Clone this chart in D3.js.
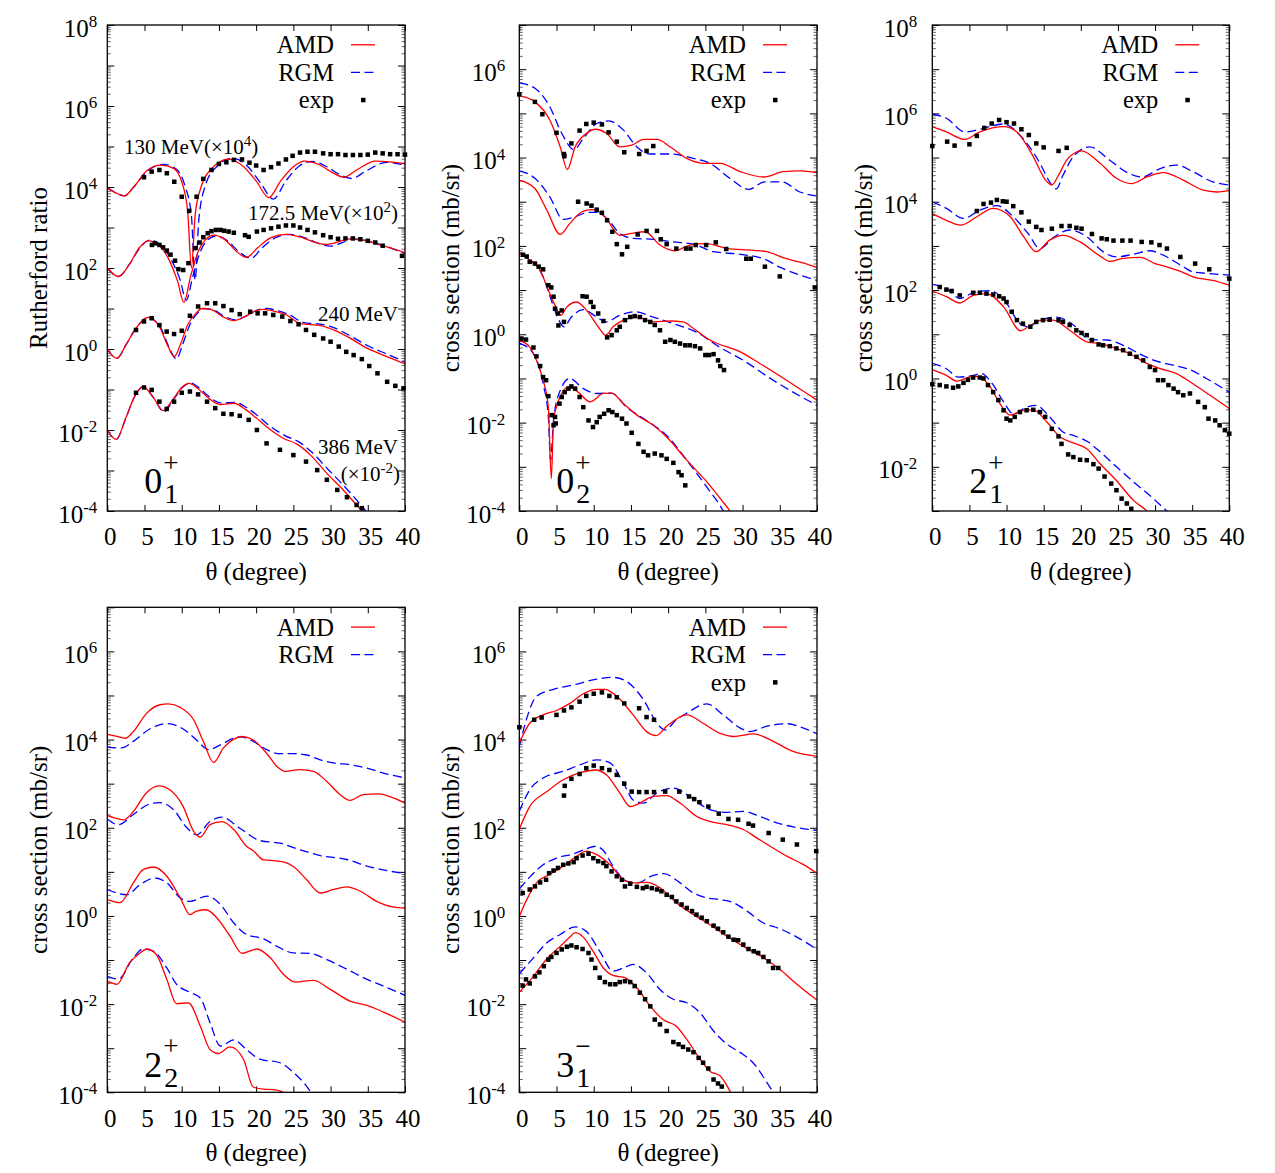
<!DOCTYPE html>
<html><head><meta charset="utf-8">
<script src="https://cdn.jsdelivr.net/npm/d3@7/dist/d3.min.js"></script>
<style>
body{margin:0;background:#fff}
text{font-family:"Liberation Serif","Times New Roman",serif;fill:#000}
</style>
</head><body>
<svg id="chart" width="1275" height="1173" xmlns="http://www.w3.org/2000/svg"></svg>
<script>
// ===== DATA: [theta (deg), log10(value)] =====
const xTicks = [0,5,10,15,20,25,30,35,40];
const legendNames = ["AMD","RGM","exp"];
const energyLabels = ["130 MeV(×10", "172.5 MeV(×10", "240 MeV", "386 MeV", "(×10"];

// ---- panel 1 : 0_1^+ (Rutherford ratio) ----
const p1_130_amd = [[0,3.98],[1.2,3.85],[2.3,3.78],[3.5,3.99],[5.3,4.40],[7.2,4.54],[8.9,4.46],[10,4.13],[10.8,3.4],[11.3,2.0],[11.8,3.3],[12.6,4.0],[14,4.45],[16.3,4.69],[18.2,4.52],[20,4.15],[21.7,3.74],[23.3,4.15],[25,4.5],[26.5,4.64],[28.5,4.55],[30.3,4.35],[31.8,4.24],[33.5,4.42],[36,4.64],[38,4.62],[40,4.57]];
const p1_130_rgm = [[0,3.98],[1.2,3.85],[2.3,3.78],[3.5,3.99],[5.4,4.40],[7.5,4.56],[9.2,4.45],[10.4,4.05],[11.3,3.3],[11.8,1.7],[12.3,3.2],[13.2,4.05],[14.7,4.5],[16.8,4.71],[18.8,4.52],[20.6,4.1],[22.3,3.70],[24,4.15],[25.8,4.52],[27.5,4.63],[29.5,4.5],[31.3,4.3],[32.8,4.21],[34.8,4.4],[37.5,4.61],[40,4.54]];
const p1_130_exp = [[4.93,4.24],[5.96,4.38],[7.0,4.42],[8.0,4.34],[9.0,4.13],[10.0,3.76],[11.0,3.41],[12.0,3.76],[12.9,4.2],[14.0,4.42],[15.0,4.57],[16.0,4.61],[17.0,4.67],[18.1,4.68],[19.1,4.6],[20,4.53],[21,4.42],[22,4.49],[23,4.58],[24,4.68],[24.9,4.77],[25.9,4.85],[26.9,4.87],[27.9,4.87],[29,4.83],[30,4.81],[31,4.81],[32,4.79],[33,4.79],[34,4.79],[35,4.8],[36,4.85],[37,4.83],[38,4.81],[39,4.81],[40,4.8]];
const p1_172_amd = [[0,2.0],[1.5,1.79],[3,2.1],[4.3,2.5],[5.5,2.67],[7,2.55],[8.3,2.2],[9.4,1.7],[10.3,1.15],[11.2,1.8],[12.2,2.4],[13.2,2.7],[14.3,2.81],[15.8,2.7],[17.3,2.42],[18.7,2.26],[20.2,2.5],[22,2.75],[24,2.83],[26,2.76],[28,2.63],[29.3,2.58],[30.8,2.63],[32.5,2.72],[34.5,2.68],[37,2.55],[40,2.38]];
const p1_172_rgm = [[0,2.0],[1.5,1.79],[3,2.1],[4.4,2.5],[5.7,2.69],[7.2,2.57],[8.6,2.2],[9.8,1.7],[10.6,1.2],[11.5,1.8],[12.5,2.4],[13.5,2.7],[14.6,2.79],[16.1,2.68],[17.7,2.4],[19.3,2.24],[20.8,2.5],[22.6,2.75],[24.5,2.83],[26.5,2.75],[28.5,2.6],[30,2.54],[31.5,2.62],[33,2.72],[35,2.67],[37.5,2.53],[40,2.36]];
const p1_172_exp = [[6.0,2.57],[6.4,2.61],[7.0,2.57],[7.5,2.51],[8.0,2.43],[8.5,2.33],[9.1,2.18],[9.55,1.97],[10.2,1.95],[10.9,2.12],[11.8,2.49],[12.4,2.63],[12.9,2.76],[13.5,2.86],[14,2.91],[14.6,2.94],[15.2,2.94],[15.7,2.92],[16.3,2.9],[17,2.87],[18.5,2.81],[19,2.77],[20.1,2.9],[21,2.94],[22,2.98],[23,3.02],[24,3.05],[25,3.05],[25.9,3.0],[26.9,2.94],[27.9,2.88],[29,2.81],[30,2.76],[31,2.72],[32,2.73],[33,2.73],[34,2.71],[35,2.67],[36,2.63],[37,2.55],[39.6,2.3]];
const p1_240_amd = [[0,0.0],[1.3,-0.23],[2.5,0.1],[3.8,0.5],[5.5,0.78],[7,0.55],[8.2,0.05],[9.0,-0.19],[9.8,0.1],[10.8,0.6],[12,0.9],[12.7,1.0],[14,0.97],[15.5,0.8],[17,0.70],[18.5,0.8],[20,0.95],[21,0.98],[22.5,0.93],[24.1,0.84],[25.9,0.63],[28.8,0.57],[30.4,0.47],[32.5,0.28],[34.9,0.02],[37.5,-0.18],[40,-0.37]];
const p1_240_rgm = [[0,0.0],[1.3,-0.23],[2.5,0.1],[3.8,0.5],[5.5,0.77],[7.1,0.55],[8.4,0.0],[9.3,-0.25],[10.1,0.1],[11.1,0.6],[12.3,0.92],[13,1.0],[14.3,0.96],[15.8,0.8],[17.2,0.72],[18.7,0.82],[20.3,0.97],[21.5,1.0],[23,0.94],[24.5,0.84],[26.3,0.66],[29,0.6],[30.5,0.52],[32.5,0.34],[35,0.08],[37.5,-0.12],[40,-0.32]];
const p1_240_exp = [[3.86,0.47],[4.93,0.68],[5.96,0.76],[7.0,0.59],[7.98,0.43],[8.97,0.37],[10.0,0.45],[11.1,0.82],[12.2,1.05],[13.4,1.13],[14.5,1.13],[15.6,1.06],[16.7,0.96],[17.8,0.86],[19.2,0.92],[20.2,0.88],[21.2,0.88],[22.3,0.84],[23.5,0.80],[24.6,0.69],[25.7,0.61],[26.7,0.47],[27.8,0.35],[29.0,0.26],[30.0,0.18],[31.1,0.06],[32.1,-0.07],[33.1,-0.15],[34.2,-0.25],[35.2,-0.42],[36.3,-0.60],[37.6,-0.81],[38.7,-0.91],[39.8,-0.97]];
const p1_386_amd = [[0,-2.0],[1.2,-2.23],[2.5,-1.7],[3.6,-1.2],[4.8,-0.93],[6.2,-1.2],[7.5,-1.52],[8.8,-1.25],[10,-0.95],[11,-0.85],[12.2,-0.98],[13.4,-1.18],[15.2,-1.37],[17,-1.34],[18.7,-1.51],[20,-1.7],[21.4,-1.92],[23.7,-2.21],[25.5,-2.35],[27.3,-2.62],[29.5,-3.07],[31.7,-3.48],[34.2,-3.99],[36,-4.3]];
const p1_386_rgm = [[0,-2.0],[1.2,-2.23],[2.5,-1.7],[3.6,-1.2],[4.8,-0.93],[6.2,-1.2],[7.6,-1.55],[8.9,-1.25],[10.1,-0.95],[11.2,-0.84],[12.4,-0.97],[13.5,-1.15],[15.3,-1.33],[17.2,-1.32],[18.9,-1.47],[20.3,-1.66],[21.7,-1.88],[24,-2.15],[25.8,-2.3],[27.5,-2.55],[29.7,-2.98],[32,-3.42],[34.6,-3.97],[36,-4.3]];
const p1_386_exp = [[3.86,-1.08],[4.93,-0.95],[5.96,-1.01],[7.0,-1.30],[7.98,-1.48],[8.97,-1.30],[10.0,-1.08],[11.1,-1.05],[12.2,-1.12],[13.4,-1.30],[14.5,-1.46],[15.6,-1.60],[16.7,-1.61],[17.8,-1.65],[19.0,-1.75],[20.1,-2.0],[21.4,-2.33],[23.2,-2.49],[25.0,-2.62],[26.7,-2.78],[28.2,-2.99],[29.5,-3.23],[30.9,-3.48],[32.2,-3.66],[33.5,-3.85],[34.2,-3.93]];

// ---- panel 2 : 0_2^+ ----
const p2_130_amd = [[0,5.40],[2.1,5.26],[4.1,4.85],[5.5,4.24],[6.45,3.73],[7.5,4.24],[9.05,4.55],[10.2,4.64],[11.7,4.55],[13.5,4.24],[15.1,4.28],[16.7,4.41],[18.5,4.41],[20.3,4.24],[22.5,3.98],[24.7,3.87],[27,3.87],[29.7,3.68],[32.8,3.56],[35.5,3.68],[37.7,3.70],[40,3.66]];
const p2_130_rgm = [[0,5.69],[2.1,5.57],[4.1,5.15],[5.7,4.55],[7.35,4.18],[8.6,4.43],[10.4,4.77],[12,4.83],[14,4.62],[15.8,4.24],[17.6,4.08],[20.3,4.08],[23.4,3.98],[25.6,3.87],[28.3,3.53],[30.8,3.28],[33,3.45],[35.3,3.45],[37.7,3.22],[40,3.13]];
const p2_130_exp = [[0,5.43],[2.1,5.26],[3.1,4.98],[5.0,4.56],[6.0,4.08],[6.05,4.03],[7.0,4.32],[8.1,4.61],[9,4.76],[10,4.79],[11.1,4.75],[12,4.57],[13.1,4.36],[14.1,4.12],[16.1,4.08],[17.1,4.15],[18,4.26]];
const p2_172_amd = [[0,3.49],[2.1,3.30],[3.7,2.81],[5.5,2.26],[6.8,2.51],[8.6,2.79],[9.95,2.82],[11.5,2.66],[13.5,2.24],[14.9,2.28],[16.9,2.32],[18.9,2.02],[20.9,1.89],[22.9,2.02],[25.2,2.05],[27.9,1.94],[31.5,1.90],[33.2,1.87],[35.9,1.71],[38,1.62],[40,1.51]];
const p2_172_rgm = [[0,3.70],[2.1,3.53],[4.1,3.11],[5.9,2.60],[7.5,2.66],[9.3,2.76],[10.4,2.76],[12,2.58],[13.5,2.28],[15.3,2.17],[18,2.15],[20.7,2.09],[23.4,2.04],[26.1,1.87],[29.7,1.81],[32.8,1.71],[35,1.52],[37.5,1.35],[40,1.22]];
const p2_172_exp = [[7.9,3.0],[9.05,2.96],[9.7,2.91],[10.4,2.82],[11.1,2.75],[11.8,2.58],[12.5,2.32],[13.1,2.04],[13.8,1.81],[14.5,1.98],[15.9,2.26],[17.1,2.34],[18.5,2.34],[19,2.15],[19.8,2.04],[21.1,1.94],[22.4,1.94],[23,1.94],[23.7,2.02],[25.1,2.02],[26.4,2.08],[27.8,1.93],[30.5,1.71],[31.1,1.71],[33,1.53],[35,1.31],[39.7,1.06]];
const p2_240_amd = [[0,1.83],[1.4,1.68],[2.8,1.45],[3.9,1.0],[4.8,0.66],[5.6,0.43],[6.4,0.62],[7.7,0.73],[9.05,0.54],[10.6,0.17],[11.6,-0.02],[12.6,0.17],[14,0.32],[15.8,0.39],[18,0.28],[20.3,0.30],[22,0.28],[23.4,0.13],[25.6,-0.13],[29.7,-0.40],[32.3,-0.66],[35.9,-1.04],[40,-1.49]];
const p2_240_rgm = [[0,1.85],[1.4,1.7],[3.2,1.30],[4.3,0.77],[5.2,0.36],[6,0.17],[7,0.39],[8.6,0.56],[10.4,0.39],[11.7,0.28],[13.5,0.43],[15.5,0.51],[18,0.39],[20.7,0.24],[23.8,0.05],[26.9,-0.29],[30.1,-0.59],[34.1,-1.04],[40,-1.61]];
const p2_240_exp = [[0.5,1.8],[1.0,1.76],[1.4,1.64],[2.1,1.60],[2.6,1.53],[3.2,1.47],[3.9,1.11],[4.3,1.06],[4.6,0.85],[4.8,0.58],[5.2,0.47],[5.25,0.20],[5.7,0.54],[6,0.28],[8.5,0.86],[9.05,0.85],[9.6,0.73],[9.95,0.62],[10.6,0.47],[11.3,0.30],[11.8,-0.07],[12.4,-0.02],[13.1,0.09],[13.5,0.17],[14.2,0.32],[14.9,0.39],[15.5,0.41],[16.2,0.39],[16.9,0.32],[17.6,0.28],[18.2,0.21],[18.9,0.09],[19.6,-0.17],[20.3,-0.13],[20.9,-0.17],[21.6,-0.21],[22.3,-0.25],[22.9,-0.25],[23.6,-0.27],[24.3,-0.32],[25,-0.47],[25.5,-0.47],[26.1,-0.45],[26.7,-0.59],[27,-0.72],[27.5,-0.81]];
const p2_386_amd = [[0,-0.14],[1.4,-0.29],[2.3,-0.59],[3.2,-1.04],[3.9,-1.64],[4.3,-3.27],[4.6,-1.95],[5,-1.64],[5.7,-1.34],[6.6,-1.19],[7.9,-1.31],[9.5,-1.53],[11.3,-1.34],[12.4,-1.33],[14,-1.57],[15.8,-1.83],[18,-2.06],[20,-2.36],[22.5,-2.85],[25.2,-3.34],[27.2,-3.76],[28.3,-4.0],[29,-4.2]];
const p2_386_rgm = [[0,-0.20],[1.9,-0.44],[3.2,-1.12],[3.9,-1.87],[4.2,-2.85],[4.6,-1.95],[5.5,-1.27],[6.8,-1.0],[8.6,-1.23],[10.4,-1.34],[12.4,-1.33],[14.4,-1.65],[17.1,-1.95],[19.8,-2.29],[22.5,-2.85],[25.2,-3.46],[27.4,-4.0],[28,-4.2]];
const p2_386_exp = [[0.3,-0.10],[0.9,-0.12],[1.9,-0.30],[2.3,-0.50],[2.8,-0.72],[3.2,-0.97],[3.6,-1.04],[3.9,-1.40],[4.35,-1.83],[4.6,-2.06],[4.9,-2.02],[4.8,-1.87],[5.4,-1.57],[5.7,-1.42],[6.1,-1.31],[6.6,-1.23],[7.0,-1.18],[7.5,-1.23],[8.1,-1.42],[8.6,-1.65],[9.3,-1.95],[9.9,-2.10],[10.4,-1.99],[10.8,-1.87],[11.4,-1.80],[12,-1.72],[12.5,-1.76],[13.1,-1.83],[13.8,-1.91],[14.4,-2.02],[15.1,-2.23],[16,-2.48],[16.7,-2.66],[17.3,-2.74],[18.2,-2.70],[19.1,-2.74],[19.8,-2.82],[20.7,-2.91],[21.4,-3.12],[21.8,-3.19],[22.3,-3.42]];

// ---- panel 3 : 2_1^+ ----
const p3_130_amd = [[0,5.70],[1.9,5.58],[4.4,5.41],[6.4,5.58],[9.6,5.70],[11.4,5.58],[13.6,5.02],[15.2,4.5],[16.1,4.38],[17,4.6],[18.1,4.94],[20.1,5.15],[22.6,4.87],[24.8,4.53],[26.8,4.41],[28.9,4.56],[31.1,4.66],[33.8,4.49],[36.5,4.26],[38.3,4.22],[40,4.25]];
const p3_130_rgm = [[0,5.98],[1.9,5.89],[4.4,5.58],[6.4,5.64],[9.6,5.76],[12,5.47],[14.5,4.87],[16,4.4],[16.7,4.29],[17.6,4.6],[19,5.02],[21.2,5.24],[23.9,4.94],[26.6,4.63],[28.2,4.56],[30.7,4.75],[32.9,4.83],[35.1,4.68],[37.8,4.45],[40,4.38]];
const p3_130_exp = [[0,5.26],[2,5.36],[3,5.27],[5,5.30],[6,5.49],[7,5.67],[8,5.77],[9,5.85],[10,5.80],[11,5.77],[12,5.64],[13,5.51],[14,5.32],[15,5.23],[17,5.15],[18.1,5.22]];
const p3_172_amd = [[0,3.73],[1.9,3.58],[3.8,3.47],[6,3.66],[8.2,3.85],[10.5,3.66],[12.3,3.21],[14,2.87],[15.8,3.13],[17.6,3.24],[19.9,3.09],[22.6,2.77],[23.9,2.65],[25.7,2.72],[28,2.74],[30,2.60],[31.5,2.53],[33.5,2.42],[35.1,2.30],[37.8,2.22],[40,2.11]];
const p3_172_rgm = [[0,4.0],[1.9,3.85],[4.2,3.62],[6.4,3.81],[8.7,3.91],[10.9,3.66],[12.9,3.28],[14.5,2.94],[16.3,3.19],[18.5,3.36],[20.8,3.21],[23,2.87],[24.8,2.75],[27,2.81],[29.3,2.89],[31.1,2.79],[33.8,2.53],[35.1,2.41],[36.9,2.38],[40,2.34]];
const p3_172_exp = [[6,3.79],[6.9,3.95],[7.9,3.98],[8.7,4.04],[9.5,4.01],[10,4.0],[10.9,3.90],[12,3.76],[13,3.55],[14,3.43],[14.7,3.36],[16.1,3.39],[17.4,3.45],[18.5,3.45],[19.4,3.41],[20.1,3.39],[21.5,3.27],[22.8,3.17],[23.5,3.15],[24.4,3.12],[25.6,3.12],[26.7,3.12],[28.2,3.09],[29.5,3.08],[30.6,3.02],[31.6,2.94],[33.4,2.75],[35.4,2.60],[37.3,2.47],[40,2.26]];
const p3_240_amd = [[0,1.98],[1.9,1.85],[3.7,1.71],[5.5,1.88],[7.3,1.92],[9.6,1.62],[11.9,1.08],[12.9,1.17],[14.7,1.32],[16.3,1.32],[18.5,1.09],[20.8,0.83],[22.6,0.79],[24.4,0.70],[26.6,0.56],[28.9,0.34],[30.7,0.22],[32.9,0.11],[35.1,-0.12],[37.4,-0.38],[40,-0.68]];
const p3_240_rgm = [[0,2.13],[1.9,2.04],[3.7,1.81],[5.5,1.94],[7.8,1.99],[10,1.70],[11.8,1.24],[12.9,1.17],[14.5,1.32],[16.7,1.39],[19,1.21],[21.2,0.88],[23.5,0.87],[25.7,0.75],[28,0.55],[30.2,0.39],[32.5,0.30],[34.7,0.20],[36.9,0.0],[40,-0.31]];
const p3_240_exp = [[1,2.07],[1.9,2.01],[2.6,1.98],[3.7,1.88],[5.5,1.94],[6.4,1.94],[7.3,1.92],[8.2,1.90],[9,1.86],[9.6,1.81],[10,1.73],[10.7,1.51],[11.4,1.32],[12.2,1.24],[13.2,1.17],[14,1.28],[14.9,1.32],[15.8,1.33],[17,1.32],[17.6,1.28],[18.5,1.21],[19.4,1.09],[20.1,1.03],[20.8,0.98],[21.5,0.87],[22.4,0.77],[23,0.75],[23.9,0.73],[24.8,0.68],[25.7,0.64],[26.6,0.56],[27.5,0.49],[28.4,0.41],[29.3,0.26],[30,0.19],[30.4,-0.04],[31.1,-0.04],[31.8,-0.15],[32.5,-0.23],[33.1,-0.31],[33.8,-0.38],[34.7,-0.34],[35.8,-0.53],[36.7,-0.65],[37.2,-0.91],[38.1,-0.95],[38.7,-1.06],[39.4,-1.17],[40,-1.25]];
const p3_386_amd = [[0,0.20],[1.9,0.07],[3.3,-0.06],[5.5,0.05],[6.4,0.03],[7.8,-0.19],[9.1,-0.57],[10.5,-0.83],[12.3,-0.72],[13.6,-0.71],[15.4,-0.98],[17.2,-1.32],[19,-1.46],[20.8,-1.59],[22.6,-1.93],[24.8,-2.31],[27.1,-2.76],[28.9,-3.0],[30,-3.2]];
const p3_386_rgm = [[0,0.34],[1.9,0.22],[3.5,0.03],[5.5,0.07],[6.6,0.11],[8,-0.10],[9.6,-0.53],[10.9,-0.80],[12.7,-0.65],[14,-0.61],[15.8,-0.87],[17.6,-1.21],[19,-1.29],[21,-1.44],[22.6,-1.66],[24.8,-2.0],[27.1,-2.34],[29.3,-2.65],[31.6,-3.0],[33,-3.2]];
const p3_386_exp = [[0,-0.13],[1,-0.15],[1.9,-0.18],[2.8,-0.21],[3.5,-0.18],[4.2,-0.10],[4.8,-0.03],[5.5,0.02],[6.4,0.02],[6.9,0.0],[7.5,-0.15],[8.2,-0.31],[8.9,-0.49],[9.6,-0.72],[10,-0.91],[10.5,-0.95],[11.1,-0.87],[11.8,-0.76],[12.7,-0.72],[13.6,-0.71],[14.5,-0.76],[15.2,-0.87],[16.1,-1.14],[17,-1.31],[17.4,-1.48],[18.3,-1.72],[19,-1.78],[19.9,-1.84],[20.8,-1.85],[21.7,-1.94],[22.4,-2.04],[23.2,-2.22],[24.1,-2.38],[24.8,-2.53],[25.5,-2.72],[26.2,-2.83],[26.8,-2.95]];

// ---- panel 4 : 2_2^+ (no data) ----
const p4_130_amd = [[0,4.12],[1.3,4.07],[2.4,4.03],[3.5,4.18],[5.3,4.60],[7.1,4.79],[8.2,4.81],[9.8,4.73],[11.6,4.45],[12.9,3.96],[14.3,3.48],[15.6,3.81],[17,4.01],[18.1,4.07],[19.6,3.99],[21.4,3.69],[22.8,3.39],[23.9,3.28],[25.9,3.32],[27.7,3.28],[29.5,3.05],[31.3,2.75],[32.6,2.62],[34.4,2.75],[36.5,2.77],[38.5,2.67],[40,2.56]];
const p4_130_rgm = [[0,3.83],[1.9,3.81],[3.5,3.96],[5.7,4.24],[8,4.36],[10.2,4.24],[12,3.99],[13.6,3.77],[15.2,3.88],[17,4.03],[17.8,4.06],[19.6,3.96],[21.4,3.77],[23.2,3.68],[25,3.68],[26.8,3.65],[28.6,3.54],[30.4,3.47],[32.6,3.43],[34.9,3.35],[37.1,3.24],[40,3.13]];
const p4_172_amd = [[0,2.28],[1,2.22],[2.2,2.18],[3.5,2.37],[5.3,2.80],[6.9,2.95],[8.4,2.86],[10.2,2.48],[11.6,1.92],[12.5,1.79],[13.8,2.07],[15.4,2.14],[17,1.96],[18.7,1.58],[19.6,1.48],[21,1.27],[22.6,1.25],[23.8,1.22],[25,1.12],[26.8,0.82],[28.6,0.52],[30.4,0.60],[32.2,0.66],[34,0.56],[36.2,0.33],[38.5,0.20],[40,0.18]];
const p4_172_rgm = [[0,2.20],[1.5,2.07],[3.5,2.30],[5.7,2.54],[7.1,2.57],[8.9,2.41],[10.7,2.0],[12,1.84],[13.8,2.14],[15.4,2.24],[17.8,1.99],[20.5,1.71],[23.2,1.65],[25.9,1.50],[28.6,1.37],[32.2,1.28],[34.9,1.13],[40,0.96]];
const p4_240_amd = [[0,0.37],[1.7,0.30],[3.5,0.75],[4.8,1.05],[6.2,1.11],[8,0.90],[9.8,0.41],[11.1,0.03],[12,0.11],[13.3,0.14],[14.7,-0.04],[16.5,-0.46],[18.1,-0.85],[20.1,-0.75],[21.9,-0.95],[23.7,-1.33],[25.2,-1.50],[27.7,-1.46],[30,-1.67],[32.6,-1.93],[34.9,-2.03],[37.1,-2.18],[40,-2.41]];
const p4_240_rgm = [[0,0.60],[2.6,0.48],[4.4,0.71],[6.4,0.86],[8,0.75],[9.8,0.41],[11.1,0.33],[13.4,0.45],[15.2,0.26],[17,-0.16],[18.7,-0.42],[21,-0.52],[22.8,-0.69],[25,-0.84],[27.3,-0.85],[29.5,-0.99],[32.2,-1.21],[34.9,-1.44],[37.1,-1.59],[40,-1.80]];
const p4_386_amd = [[0,-1.48],[1.3,-1.55],[3,-1.06],[4.4,-0.84],[5.3,-0.75],[6.6,-0.88],[8,-1.44],[9.3,-1.99],[10.9,-1.97],[12.5,-2.50],[13.8,-3.03],[14.9,-3.12],[16.5,-2.97],[18.3,-3.25],[19.6,-3.88],[21,-3.93],[22.3,-3.94],[23.5,-3.99],[24.5,-4.2]];
const p4_386_rgm = [[0,-1.37],[1.5,-1.43],[3.5,-0.95],[4.8,-0.75],[6.2,-0.80],[8,-1.18],[9.3,-1.55],[11.1,-1.73],[12.5,-1.86],[13.8,-2.42],[15.2,-2.95],[17,-2.81],[18.7,-3.03],[20.5,-3.25],[23.2,-3.33],[25,-3.55],[27.3,-3.99],[28,-4.2]];

// ---- panel 5 : 3_1^- ----
const p5_130_amd = [[0,3.92],[1.4,4.37],[3.2,4.56],[5,4.66],[6.8,4.82],[8.6,5.04],[10.4,5.14],[11.5,5.14],[13.1,4.98],[15.3,4.56],[17.1,4.18],[18.4,4.09],[19.8,4.30],[22.5,4.56],[24.7,4.37],[27,4.14],[28.8,4.07],[31.5,4.13],[34.1,3.96],[36.8,3.73],[40,3.62]];
const p5_130_rgm = [[0,3.84],[1,4.48],[2.3,4.98],[4.6,5.14],[7.3,5.24],[10.4,5.37],[12.6,5.41],[14.4,5.32],[16.7,4.90],[18.5,4.37],[19.6,4.22],[21.1,4.45],[22.5,4.60],[25.2,4.81],[27.4,4.56],[29.7,4.26],[31,4.18],[33.2,4.30],[35.9,4.36],[38.2,4.26],[40,4.13]];
const p5_130_exp = [[0,4.28],[2,4.45],[3,4.50],[5,4.56],[6,4.66],[7,4.73],[8.1,4.86],[9,4.99],[10,5.04],[11.1,5.07],[12.1,4.99],[13.1,4.96],[14.1,4.82],[16.1,4.71],[17.1,4.51],[18.1,4.45]];
const p5_172_amd = [[0,1.97],[1.4,2.48],[3.7,2.82],[5.9,3.09],[8.2,3.25],[10.2,3.31],[11.7,3.20],[13.5,2.79],[14.9,2.48],[16.2,2.56],[18,2.71],[19.8,2.73],[21.6,2.56],[23.8,2.26],[26.1,2.12],[27.9,2.07],[30.1,1.96],[31.9,1.77],[34.1,1.54],[36,1.35],[38,1.18],[40,0.97]];
const p5_172_rgm = [[0,2.37],[1.4,2.86],[3.2,3.13],[5.9,3.28],[8.2,3.43],[10.4,3.54],[12.2,3.47],[14,3.01],[15.3,2.63],[16.7,2.56],[18.5,2.79],[20.7,2.90],[22.9,2.71],[25.6,2.41],[27.9,2.35],[30.1,2.37],[32.3,2.26],[34.6,2.11],[36.8,2.02],[40,1.94]];
const p5_172_exp = [[6,2.73],[6.1,2.95],[7,3.11],[8.1,3.22],[9,3.35],[10,3.41],[11.1,3.35],[12.1,3.31],[13.1,3.20],[14.1,3.0],[15.1,2.82],[16.1,2.81],[17.1,2.81],[18.1,2.81],[19.6,2.82],[21.5,2.82],[22.8,2.71],[23.5,2.65],[24.2,2.58],[25.4,2.48],[26.8,2.32],[28.1,2.20],[29.4,2.18],[30.8,2.09],[31.4,2.05],[33.5,1.88],[35.4,1.73],[37.3,1.62],[39.9,1.47]];
const p5_240_amd = [[0,-0.01],[1,0.37],[2.3,0.75],[4.1,0.94],[5.9,1.13],[7.7,1.35],[9,1.47],[10.4,1.39],[12.2,1.16],[14,0.82],[15.3,0.75],[17.1,0.76],[18.9,0.64],[21.1,0.30],[23.4,0.03],[25.6,-0.20],[27.9,-0.46],[30.1,-0.69],[32.8,-0.95],[35,-1.21],[37.3,-1.55],[40,-1.91]];
const p5_240_rgm = [[0,0.61],[1.4,0.88],[3.2,1.16],[5,1.31],[7.3,1.41],[9,1.52],[10.2,1.58],[11.2,1.5],[12.6,1.13],[14.4,0.79],[15.8,0.75],[18,0.92],[19.4,0.96],[21.6,0.75],[23.4,0.52],[25.2,0.41],[27,0.37],[28.8,0.30],[30.6,0.11],[32.8,-0.16],[35,-0.29],[37.3,-0.48],[40,-0.76]];
const p5_240_exp = [[0.45,0.52],[1.4,0.60],[2.1,0.67],[2.8,0.76],[3.6,0.82],[4,0.97],[4.6,1.03],[5.2,1.09],[5.9,1.16],[6.6,1.19],[7.3,1.22],[7.7,1.31],[8.5,1.37],[9.3,1.41],[9.95,1.31],[10.6,1.24],[11.3,1.20],[11.7,1.13],[12.4,1.01],[13.1,0.90],[13.8,0.82],[14.2,0.67],[14.9,0.73],[15.8,0.66],[16.6,0.63],[17.1,0.66],[17.8,0.63],[18.5,0.60],[19.1,0.56],[19.8,0.48],[20.5,0.43],[21.1,0.33],[21.8,0.26],[22.5,0.18],[23.2,0.11],[23.8,0.03],[24.5,-0.04],[25.2,-0.12],[26.1,-0.22],[26.7,-0.29],[27.4,-0.37],[28.1,-0.47],[28.8,-0.54],[29.4,-0.55],[30.1,-0.65],[30.8,-0.75],[31.5,-0.80],[32.1,-0.84],[32.8,-0.93],[33.5,-1.03],[34.1,-1.18],[34.8,-1.18]];
const p5_386_amd = [[0,-1.73],[1.9,-1.37],[3.7,-0.97],[5.5,-0.69],[6.8,-0.48],[7.5,-0.38],[8.6,-0.48],[9.9,-0.80],[11.3,-1.18],[12.6,-1.35],[14.2,-1.40],[15.8,-1.63],[17.6,-2.05],[19.4,-2.36],[21.1,-2.50],[22.5,-2.80],[24.3,-3.25],[25.6,-3.52],[27,-3.63],[28.3,-3.97],[29,-4.2]];
const p5_386_rgm = [[0,-1.31],[1.9,-0.95],[3.7,-0.61],[5.5,-0.42],[7.5,-0.25],[9,-0.35],[10.8,-0.80],[12.6,-1.25],[14,-1.18],[15.3,-1.10],[17.1,-1.29],[18.9,-1.67],[20.7,-1.89],[22.5,-1.97],[24.3,-2.20],[26.1,-2.61],[27.9,-2.91],[29.7,-3.10],[31.4,-3.33],[34.1,-3.99],[35,-4.2]];
const p5_386_exp = [[0.45,-1.58],[0.9,-1.44],[1.4,-1.53],[2.1,-1.37],[2.7,-1.28],[3.3,-1.14],[3.9,-0.99],[4.3,-0.93],[5,-0.84],[5.7,-0.76],[6.4,-0.70],[7,-0.67],[7.7,-0.71],[8.5,-0.75],[9.3,-0.84],[9.7,-0.99],[10.2,-1.18],[10.8,-1.40],[11.5,-1.50],[12.2,-1.55],[12.9,-1.55],[13.5,-1.50],[14.2,-1.48],[14.9,-1.50],[15.5,-1.59],[16.2,-1.74],[16.9,-1.89],[17.6,-2.05],[18.2,-2.35],[18.9,-2.46],[19.8,-2.61],[20.7,-2.86],[21.4,-2.91],[22,-2.97],[22.7,-3.03],[23.4,-3.09],[24.1,-3.22],[24.7,-3.33],[25.4,-3.46],[26.1,-3.71],[26.7,-3.80],[27.2,-3.87]];

// ===== LAYOUT =====
const panels = [
  {left:107.3,right:405,top:25,bottom:511,ymin:-4,ymax:8,labelGap:10,ytitle:"Rutherford ratio",titleX:46.5,
   label:["0","1","+"],labelDy:-18,legendN:3,
   amd:[p1_130_amd,p1_172_amd,p1_240_amd,p1_386_amd],rgm:[p1_130_rgm,p1_172_rgm,p1_240_rgm,p1_386_rgm],exp:[p1_130_exp,p1_172_exp,p1_240_exp,p1_386_exp]},
  {left:519.3,right:817,top:25,bottom:511,ymin:-4,ymax:7,labelGap:14,ytitle:"cross section (mb/sr)",titleX:459,
   label:["0","2","+"],labelDy:-18,legendN:3,
   amd:[p2_130_amd,p2_172_amd,p2_240_amd,p2_386_amd],rgm:[p2_130_rgm,p2_172_rgm,p2_240_rgm,p2_386_rgm],exp:[p2_130_exp,p2_172_exp,p2_240_exp,p2_386_exp]},
  {left:932.3,right:1229.3,top:25,bottom:511,ymin:-3,ymax:8,labelGap:15,ytitle:"cross section (mb/sr)",titleX:871.5,
   label:["2","1","+"],labelDy:-18,legendN:3,
   amd:[p3_130_amd,p3_172_amd,p3_240_amd,p3_386_amd],rgm:[p3_130_rgm,p3_172_rgm,p3_240_rgm,p3_386_rgm],exp:[p3_130_exp,p3_172_exp,p3_240_exp,p3_386_exp]},
  {left:107.3,right:405,top:607.3,bottom:1092.3,ymin:-4,ymax:7,labelGap:10,ytitle:"cross section (mb/sr)",titleX:46.5,
   label:["2","2","+"],labelDy:-15.5,legendN:2,
   amd:[p4_130_amd,p4_172_amd,p4_240_amd,p4_386_amd],rgm:[p4_130_rgm,p4_172_rgm,p4_240_rgm,p4_386_rgm],exp:[]},
  {left:519.3,right:817,top:607.3,bottom:1092.3,ymin:-4,ymax:7,labelGap:14,ytitle:"cross section (mb/sr)",titleX:459,
   label:["3","1","\u2212"],labelDy:-15.5,legendN:3,
   amd:[p5_130_amd,p5_172_amd,p5_240_amd,p5_386_amd],rgm:[p5_130_rgm,p5_172_rgm,p5_240_rgm,p5_386_rgm],exp:[p5_130_exp,p5_172_exp,p5_240_exp,p5_386_exp]}
];

const RED = "#ff0000", BLUE = "#0000ff";
const FONT = '"Liberation Serif","Times New Roman",serif';
const svg = d3.select("#chart");
svg.append("rect").attr("width",1275).attr("height",1173).attr("fill","#fff");
const defs = svg.append("defs");

panels.forEach((p, i) => {
  const x = d3.scaleLinear().domain([0,40]).range([p.left,p.right]);
  const y = d3.scaleLog().domain([Math.pow(10,p.ymin), Math.pow(10,p.ymax)]).range([p.bottom,p.top]);
  const g = svg.append("g");
  const cid = "clip" + i;
  defs.append("clipPath").attr("id",cid).append("rect")
    .attr("x",p.left).attr("y",p.top).attr("width",p.right-p.left).attr("height",p.bottom-p.top);
  const cidP = "clipP" + i;
  defs.append("clipPath").attr("id",cidP).append("rect")
    .attr("x",p.left-3).attr("y",p.top).attr("width",p.right-p.left+6).attr("height",p.bottom-p.top);

  // y ticks (major every decade, minor 2..9)
  const majors = d3.range(p.ymin, p.ymax+1).map(e => Math.pow(10,e));
  const minors = [];
  for (let e=p.ymin; e<p.ymax; e++) for (let m=2; m<=9; m++) minors.push(m*Math.pow(10,e));
  const axes = [
    [d3.axisLeft(y), p.left, majors, -7],
    [d3.axisRight(y), p.right, majors, -7],
    [d3.axisLeft(y), p.left, minors, -3.5],
    [d3.axisRight(y), p.right, minors, -3.5]
  ];
  axes.forEach(([ax, tx, vals, sz]) => {
    const a = g.append("g").attr("transform",`translate(${tx},0)`)
      .call(ax.tickValues(vals).tickSize(sz).tickSizeOuter(0).tickFormat(""));
    a.select(".domain").remove();
    a.selectAll("line").attr("stroke", sz < -5 ? "#000" : "#666").attr("stroke-width",1);
  });
  // x ticks
  const xb = g.append("g").attr("transform",`translate(0,${p.bottom})`)
    .call(d3.axisBottom(x).tickValues(xTicks).tickSize(-6).tickSizeOuter(0).tickPadding(16.5));
  xb.select(".domain").remove();
  xb.selectAll("line").attr("stroke","#000");
  xb.selectAll("text").attr("font-size",25).attr("font-family",FONT).attr("dx",2.5).attr("fill","#000");
  const xt = g.append("g").attr("transform",`translate(0,${p.top})`)
    .call(d3.axisTop(x).tickValues(xTicks).tickSize(-6).tickSizeOuter(0).tickFormat(""));
  xt.select(".domain").remove();
  xt.selectAll("line").attr("stroke","#000");

  // y tick labels 10^n every 2 decades
  const labs = d3.range(p.ymin, p.ymax+1).filter(e => e % 2 === 0);
  labs.forEach(e => {
    const t = g.append("text").attr("x",p.left - p.labelGap).attr("y",y(Math.pow(10,e)) + 11.5)
      .attr("text-anchor","end").attr("font-size",25);
    t.append("tspan").text("10");
    t.append("tspan").attr("font-size",17).attr("dy",-9.5).text(String(e));
  });

  // axis titles
  g.append("text").attr("transform",`translate(${p.titleX},${(p.top+p.bottom)/2}) rotate(-90)`)
    .attr("text-anchor","middle").attr("font-size",25).text(p.ytitle);
  g.append("text").attr("x",(p.left+p.right)/2).attr("y",p.bottom+69)
    .attr("text-anchor","middle").attr("font-size",25).text("\u03b8 (degree)");

  // curves
  const line = d3.line().x(d => x(d[0])).y(d => y(Math.pow(10,d[1]))).curve(d3.curveMonotoneX);
  const cg = g.append("g").attr("clip-path",`url(#${cid})`);
  p.rgm.forEach(s => cg.append("path").attr("d",line(s)).attr("fill","none")
    .attr("stroke",BLUE).attr("stroke-width",1.3).attr("stroke-dasharray","9,4.5"));
  p.amd.forEach(s => cg.append("path").attr("d",line(s)).attr("fill","none")
    .attr("stroke",RED).attr("stroke-width",1.3));
  const pg = g.append("g").attr("clip-path",`url(#${cidP})`);
  p.exp.forEach(s => pg.selectAll(null).data(s).enter().append("rect")
    .attr("x",d => x(d[0]) - 2.25).attr("y",d => y(Math.pow(10,d[1])) - 2.25)
    .attr("width",4.5).attr("height",4.5).attr("fill","#000"));

  // frame
  g.append("rect").attr("x",p.left).attr("y",p.top).attr("width",p.right-p.left).attr("height",p.bottom-p.top)
    .attr("fill","none").attr("stroke","#000").attr("stroke-width",1.3);

  // legend
  for (let k=0; k<p.legendN; k++) {
    const by = p.top + 28.3 + k*27.5;
    g.append("text").attr("x",p.right-71).attr("y",by).attr("text-anchor","end").attr("font-size",24.5).text(legendNames[k]);
    if (k===0) g.append("line").attr("x1",p.right-54).attr("x2",p.right-30).attr("y1",by-8.5).attr("y2",by-8.5).attr("stroke",RED).attr("stroke-width",1.3);
    if (k===1) g.append("line").attr("x1",p.right-54).attr("x2",p.right-30).attr("y1",by-8.5).attr("y2",by-8.5).attr("stroke",BLUE).attr("stroke-width",1.3).attr("stroke-dasharray","9,4.5");
    if (k===2) g.append("rect").attr("x",p.right-44).attr("y",by-10.5).attr("width",4.5).attr("height",4.5).attr("fill","#000");
  }

  // panel state label: main digit, subscript, superscript
  const lb = p.bottom + p.labelDy;
  g.append("text").attr("x",p.left+37).attr("y",lb).attr("font-size",36).text(p.label[0]);
  g.append("text").attr("x",p.left+57).attr("y",lb+10).attr("font-size",28).text(p.label[1]);
  g.append("text").attr("x",p.left+56).attr("y",lb-21.5).attr("font-size",27).text(p.label[2]);
});

// energy annotations in panel 1
const ann = svg.append("g");
function eLabel(txt, sup, xx, yy, anchor) {
  const t = ann.append("text").attr("x",xx).attr("y",yy).attr("text-anchor",anchor).attr("font-size",21);
  t.append("tspan").text(txt);
  if (sup !== null) {
    t.append("tspan").attr("font-size",15).attr("dy",-8).text(sup);
    t.append("tspan").attr("dy",8).text(")");
  }
}
eLabel(energyLabels[0], "4", 124, 154, "start");
eLabel(energyLabels[1], "2", 398, 220, "end");
eLabel(energyLabels[2], null, 398, 321, "end");
eLabel(energyLabels[3], null, 398, 454, "end");
eLabel(energyLabels[4], "-2", 400, 481, "end");
</script>
</body></html>
